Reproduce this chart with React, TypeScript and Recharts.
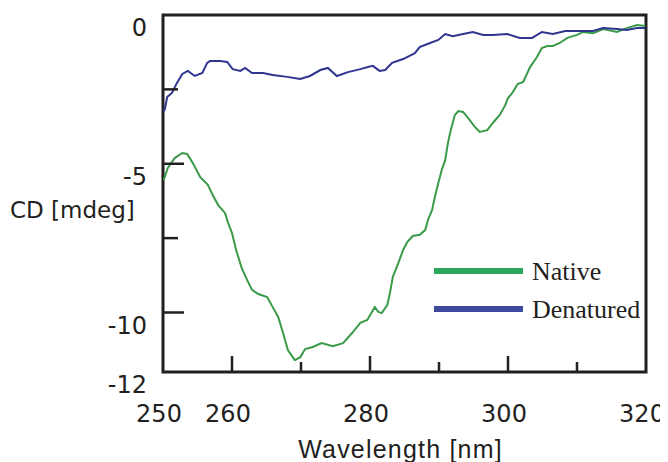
import React from 'react';
import { LineChart, Line, XAxis, YAxis, ReferenceArea, Legend } from 'recharts';

const nativeWavelength = [
  250.1, 250.7, 251.7, 252.8, 253.5, 254.3, 255.4, 256.5, 257.2, 258.0, 259.0, 259.4, 260.0, 260.6,
  261.4, 262.2, 262.9, 263.8, 265.1, 265.9, 266.7, 267.4, 268.1, 269.1, 269.9, 270.6, 271.7, 273.0,
  274.6, 276.1, 277.4, 278.6, 279.6, 280.7, 281.2, 281.7, 282.5, 282.9, 283.3, 284.1, 284.8, 285.4,
  286.2, 287.2, 288.0, 288.4, 289.0, 289.4, 289.9, 290.4, 290.9, 291.3, 291.7, 292.3, 292.8, 293.5,
  294.2, 295.2, 295.9, 297.0, 297.8, 298.8, 299.6, 300.0, 300.7, 301.4, 302.2, 303.2, 304.2, 304.9,
  305.7, 306.5, 307.5, 308.6, 310.0, 310.9, 312.3, 313.8, 315.8, 317.2, 318.7, 319.9,
];
const nativeCD = [
  -5.55, -5.14, -4.81, -4.64, -4.67, -4.97, -5.45, -5.71, -6.05, -6.39, -6.66, -6.96, -7.33, -7.9,
  -8.5, -8.91, -9.24, -9.38, -9.48, -9.82, -10.15, -10.69, -11.26, -11.6, -11.5, -11.23, -11.16, -11.03,
  -11.13, -11.03, -10.69, -10.35, -10.25, -9.82, -9.98, -10.02, -9.75, -9.34, -8.81, -8.34, -7.9, -7.63,
  -7.43, -7.39, -7.23, -6.89, -6.55, -6.12, -5.65, -5.21, -4.87, -4.3, -3.87, -3.36, -3.23, -3.26,
  -3.46, -3.76, -3.93, -3.87, -3.63, -3.36, -3.03, -2.79, -2.59, -2.32, -2.25, -1.75, -1.41, -1.11,
  -1.04, -1.04, -0.94, -0.77, -0.67, -0.57, -0.61, -0.47, -0.57, -0.44, -0.34, -0.37,
];
const denaturedWavelength = [
  250.1, 250.3, 250.6, 251.3, 252.0, 252.8, 253.6, 254.6, 255.7, 256.4, 256.8, 258.3, 259.3, 260.1,
  261.2, 261.9, 262.9, 264.5, 265.9, 268.0, 269.9, 271.3, 272.8, 273.9, 275.2, 276.8, 278.6, 279.7,
  280.4, 281.4, 282.2, 283.2, 284.8, 286.5, 287.2, 288.7, 289.9, 290.9, 292.0, 293.5, 294.9, 296.4,
  297.8, 299.9, 301.7, 303.5, 304.9, 306.5, 308.3, 310.4, 312.3, 313.8, 315.8, 317.2, 318.7, 319.9,
];
const denaturedCD = [
  -3.26, -3.13, -2.76, -2.62, -2.29, -1.98, -1.88, -2.05, -1.95, -1.61, -1.55, -1.55, -1.58, -1.82,
  -1.88, -1.78, -1.95, -1.95, -2.02, -2.08, -2.15, -2.05, -1.85, -1.78, -2.05, -1.92, -1.82, -1.75,
  -1.71, -1.88, -1.85, -1.61, -1.48, -1.28, -1.08, -0.94, -0.84, -0.64, -0.71, -0.64, -0.57, -0.67,
  -0.67, -0.64, -0.77, -0.77, -0.57, -0.64, -0.54, -0.54, -0.54, -0.44, -0.47, -0.5, -0.44, -0.44,
];

const xTicks = [250, 260, 270, 280, 290, 300, 310, 320];
const xTickLabels = [250, 260, 280, 300, 320];
const xMajorTicks = [260, 280, 300];
const yTicks = [0, -2.5, -5, -7.5, -10, -12];
const yTickLabels = [0, -5, -10, -12];
const yMajorTicks = [-5, -10];
const seriesNames = ['Native', 'Denatured'];
const xTitle = 'Wavelength [nm]';
const yTitle = 'CD [mdeg]';

const INK = '#231f20';
const NATIVE_LINE = '#3a9a48';
const DENATURED_LINE = '#30358f';
const NATIVE_KEY = '#2ca65a';
const DENATURED_KEY = '#3f4a9f';

const nativeData = nativeWavelength.map((x, i) => ({ x, cd: nativeCD[i] }));
const denaturedData = denaturedWavelength.map((x, i) => ({ x, cd: denaturedCD[i] }));

const XTick = (props: any) => {
  const { x, y, payload } = props;
  const v = payload.value;
  const inside = v > 250 && v < 320;
  const len = xMajorTicks.includes(v) ? 16 : 10;
  return (
    <g>
      {inside && <line x1={x} x2={x} y1={y} y2={y - len} stroke={INK} strokeWidth={2.5} />}
      {xTickLabels.includes(v) && (
        <text x={x - 4} y={y + 50} textAnchor="middle" fontFamily="DejaVu Sans" fontSize={24} fill={INK}>
          {v}
        </text>
      )}
    </g>
  );
};

const YTick = (props: any) => {
  const { x, y, payload } = props;
  const v = payload.value;
  const inside = v < 0 && v > -12;
  const len = yMajorTicks.includes(v) ? 21 : 15;
  return (
    <g>
      {inside && <line x1={x} x2={x + len} y1={y} y2={y} stroke={INK} strokeWidth={2.5} />}
      {yTickLabels.includes(v) && (
        <text x={x - 16} y={y + 21} textAnchor="end" fontFamily="DejaVu Sans" fontSize={24} fill={INK}>
          {v === 0 ? '0' : `-${Math.abs(v)}`}
        </text>
      )}
    </g>
  );
};

const XTitle = (props: any) => {
  const vb = props.viewBox || { x: 155, y: 364, width: 483, height: 90 };
  return (
    <text
      x={vb.x + vb.width / 2 - 4}
      y={vb.y + 86}
      textAnchor="middle"
      fontFamily="Liberation Sans"
      fontSize={25}
      letterSpacing={1.2}
      fill={INK}
    >
      {xTitle}
    </text>
  );
};

const YTitle = (props: any) => {
  const vb = props.viewBox || { x: 0, y: 7, width: 155, height: 357 };
  return (
    <text x={vb.x + 2} y={vb.y + 203} textAnchor="start" fontFamily="DejaVu Sans" fontSize={23} fill={INK}>
      {yTitle}
    </text>
  );
};

const keyColors = [NATIVE_KEY, DENATURED_KEY];

const LegendBox = () => (
  <svg width={240} height={80} style={{ display: 'block' }}>
    {seriesNames.map((name, i) => (
      <g key={name}>
        <line x1={6} x2={95} y1={18 + i * 38} y2={18 + i * 38} stroke={keyColors[i]} strokeWidth={6} />
        <text x={104} y={27 + i * 38} fontFamily="Liberation Serif" fontSize={26} fill={INK}>
          {name}
        </text>
      </g>
    ))}
  </svg>
);

export default function App() {
  return (
    <div style={{ width: 660, height: 454 }}>
      <LineChart width={660} height={454} margin={{ top: 7, right: 22, bottom: 0, left: 0 }}>
        <XAxis
          type="number"
          dataKey="x"
          domain={[250, 320]}
          ticks={xTicks}
          interval={0}
          allowDataOverflow
          height={90}
          axisLine={false}
          tickLine={false}
          tickSize={0}
          tickMargin={0}
          tick={<XTick />}
          label={<XTitle />}
        />
        <YAxis
          type="number"
          dataKey="cd"
          domain={[-12, 0]}
          ticks={yTicks}
          interval={0}
          allowDataOverflow
          width={155}
          axisLine={false}
          tickLine={false}
          tickSize={0}
          tickMargin={0}
          tick={<YTick />}
          label={<YTitle />}
        />
        <Line
          data={nativeData}
          dataKey="cd"
          name={seriesNames[0]}
          type="linear"
          stroke={NATIVE_LINE}
          strokeWidth={2}
          dot={false}
          isAnimationActive={false}
        />
        <Line
          data={denaturedData}
          dataKey="cd"
          name={seriesNames[1]}
          type="linear"
          stroke={DENATURED_LINE}
          strokeWidth={2}
          dot={false}
          isAnimationActive={false}
        />
        <ReferenceArea x1={250} x2={320} y1={-12} y2={0} stroke={INK} strokeWidth={3} fill="none" fillOpacity={0} ifOverflow="visible" />
        <Legend
          layout="vertical"
          align="center"
          verticalAlign="middle"
          content={<LegendBox />}
          wrapperStyle={{ left: 420, top: 245, width: 240, height: 80 }}
        />
      </LineChart>
    </div>
  );
}
